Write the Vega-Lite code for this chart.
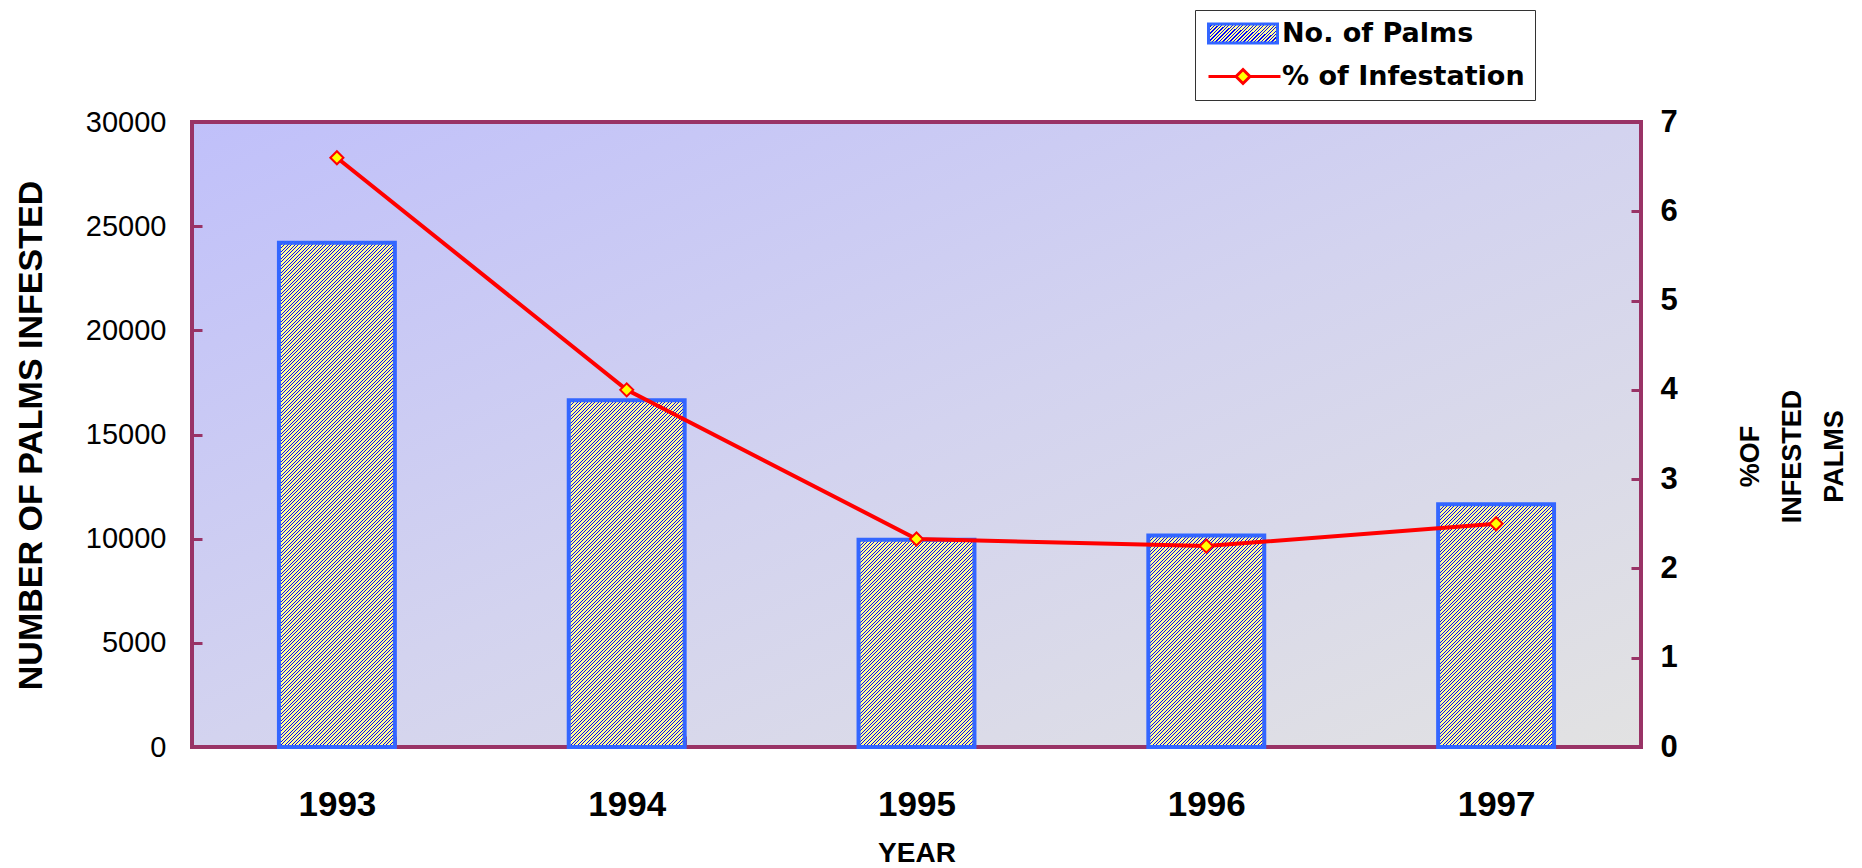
{
  "$schema": "https://vega.github.io/schema/vega-lite/v6.json",
  "width": 1449,
  "height": 625,
  "autosize": {"type": "none"},
  "padding": {"left": 192, "top": 122, "right": 221, "bottom": 121},
  "background": "#ffffff",
  "params": [
    {"name": "hatch", "value": [
{"offset":0,"color":"#00f"},{"offset":0.0015,"color":"#00f"},{"offset":0.0015,"color":"#ff9"},{"offset":0.005,"color":"#ff9"},{"offset":0.005,"color":"#00f"},{"offset":0.0065,"color":"#00f"},{"offset":0.0065,"color":"#ff9"},{"offset":0.01,"color":"#ff9"},
{"offset":0.01,"color":"#00f"},{"offset":0.0115,"color":"#00f"},{"offset":0.0115,"color":"#ff9"},{"offset":0.015,"color":"#ff9"},{"offset":0.015,"color":"#00f"},{"offset":0.0165,"color":"#00f"},{"offset":0.0165,"color":"#ff9"},{"offset":0.02,"color":"#ff9"},
{"offset":0.02,"color":"#00f"},{"offset":0.0215,"color":"#00f"},{"offset":0.0215,"color":"#ff9"},{"offset":0.025,"color":"#ff9"},{"offset":0.025,"color":"#00f"},{"offset":0.0265,"color":"#00f"},{"offset":0.0265,"color":"#ff9"},{"offset":0.03,"color":"#ff9"},
{"offset":0.03,"color":"#00f"},{"offset":0.0315,"color":"#00f"},{"offset":0.0315,"color":"#ff9"},{"offset":0.035,"color":"#ff9"},{"offset":0.035,"color":"#00f"},{"offset":0.0365,"color":"#00f"},{"offset":0.0365,"color":"#ff9"},{"offset":0.04,"color":"#ff9"},
{"offset":0.04,"color":"#00f"},{"offset":0.0415,"color":"#00f"},{"offset":0.0415,"color":"#ff9"},{"offset":0.045,"color":"#ff9"},{"offset":0.045,"color":"#00f"},{"offset":0.0465,"color":"#00f"},{"offset":0.0465,"color":"#ff9"},{"offset":0.05,"color":"#ff9"},
{"offset":0.05,"color":"#00f"},{"offset":0.0515,"color":"#00f"},{"offset":0.0515,"color":"#ff9"},{"offset":0.055,"color":"#ff9"},{"offset":0.055,"color":"#00f"},{"offset":0.0565,"color":"#00f"},{"offset":0.0565,"color":"#ff9"},{"offset":0.06,"color":"#ff9"},
{"offset":0.06,"color":"#00f"},{"offset":0.0615,"color":"#00f"},{"offset":0.0615,"color":"#ff9"},{"offset":0.065,"color":"#ff9"},{"offset":0.065,"color":"#00f"},{"offset":0.0665,"color":"#00f"},{"offset":0.0665,"color":"#ff9"},{"offset":0.07,"color":"#ff9"},
{"offset":0.07,"color":"#00f"},{"offset":0.0715,"color":"#00f"},{"offset":0.0715,"color":"#ff9"},{"offset":0.075,"color":"#ff9"},{"offset":0.075,"color":"#00f"},{"offset":0.0765,"color":"#00f"},{"offset":0.0765,"color":"#ff9"},{"offset":0.08,"color":"#ff9"},
{"offset":0.08,"color":"#00f"},{"offset":0.0815,"color":"#00f"},{"offset":0.0815,"color":"#ff9"},{"offset":0.085,"color":"#ff9"},{"offset":0.085,"color":"#00f"},{"offset":0.0865,"color":"#00f"},{"offset":0.0865,"color":"#ff9"},{"offset":0.09,"color":"#ff9"},
{"offset":0.09,"color":"#00f"},{"offset":0.0915,"color":"#00f"},{"offset":0.0915,"color":"#ff9"},{"offset":0.095,"color":"#ff9"},{"offset":0.095,"color":"#00f"},{"offset":0.0965,"color":"#00f"},{"offset":0.0965,"color":"#ff9"},{"offset":0.1,"color":"#ff9"},
{"offset":0.1,"color":"#00f"},{"offset":0.1015,"color":"#00f"},{"offset":0.1015,"color":"#ff9"},{"offset":0.105,"color":"#ff9"},{"offset":0.105,"color":"#00f"},{"offset":0.1065,"color":"#00f"},{"offset":0.1065,"color":"#ff9"},{"offset":0.11,"color":"#ff9"},
{"offset":0.11,"color":"#00f"},{"offset":0.1115,"color":"#00f"},{"offset":0.1115,"color":"#ff9"},{"offset":0.115,"color":"#ff9"},{"offset":0.115,"color":"#00f"},{"offset":0.1165,"color":"#00f"},{"offset":0.1165,"color":"#ff9"},{"offset":0.12,"color":"#ff9"},
{"offset":0.12,"color":"#00f"},{"offset":0.1215,"color":"#00f"},{"offset":0.1215,"color":"#ff9"},{"offset":0.125,"color":"#ff9"},{"offset":0.125,"color":"#00f"},{"offset":0.1265,"color":"#00f"},{"offset":0.1265,"color":"#ff9"},{"offset":0.13,"color":"#ff9"},
{"offset":0.13,"color":"#00f"},{"offset":0.1315,"color":"#00f"},{"offset":0.1315,"color":"#ff9"},{"offset":0.135,"color":"#ff9"},{"offset":0.135,"color":"#00f"},{"offset":0.1365,"color":"#00f"},{"offset":0.1365,"color":"#ff9"},{"offset":0.14,"color":"#ff9"},
{"offset":0.14,"color":"#00f"},{"offset":0.1415,"color":"#00f"},{"offset":0.1415,"color":"#ff9"},{"offset":0.145,"color":"#ff9"},{"offset":0.145,"color":"#00f"},{"offset":0.1465,"color":"#00f"},{"offset":0.1465,"color":"#ff9"},{"offset":0.15,"color":"#ff9"},
{"offset":0.15,"color":"#00f"},{"offset":0.1515,"color":"#00f"},{"offset":0.1515,"color":"#ff9"},{"offset":0.155,"color":"#ff9"},{"offset":0.155,"color":"#00f"},{"offset":0.1565,"color":"#00f"},{"offset":0.1565,"color":"#ff9"},{"offset":0.16,"color":"#ff9"},
{"offset":0.16,"color":"#00f"},{"offset":0.1615,"color":"#00f"},{"offset":0.1615,"color":"#ff9"},{"offset":0.165,"color":"#ff9"},{"offset":0.165,"color":"#00f"},{"offset":0.1665,"color":"#00f"},{"offset":0.1665,"color":"#ff9"},{"offset":0.17,"color":"#ff9"},
{"offset":0.17,"color":"#00f"},{"offset":0.1715,"color":"#00f"},{"offset":0.1715,"color":"#ff9"},{"offset":0.175,"color":"#ff9"},{"offset":0.175,"color":"#00f"},{"offset":0.1765,"color":"#00f"},{"offset":0.1765,"color":"#ff9"},{"offset":0.18,"color":"#ff9"},
{"offset":0.18,"color":"#00f"},{"offset":0.1815,"color":"#00f"},{"offset":0.1815,"color":"#ff9"},{"offset":0.185,"color":"#ff9"},{"offset":0.185,"color":"#00f"},{"offset":0.1865,"color":"#00f"},{"offset":0.1865,"color":"#ff9"},{"offset":0.19,"color":"#ff9"},
{"offset":0.19,"color":"#00f"},{"offset":0.1915,"color":"#00f"},{"offset":0.1915,"color":"#ff9"},{"offset":0.195,"color":"#ff9"},{"offset":0.195,"color":"#00f"},{"offset":0.1965,"color":"#00f"},{"offset":0.1965,"color":"#ff9"},{"offset":0.2,"color":"#ff9"},
{"offset":0.2,"color":"#00f"},{"offset":0.2015,"color":"#00f"},{"offset":0.2015,"color":"#ff9"},{"offset":0.205,"color":"#ff9"},{"offset":0.205,"color":"#00f"},{"offset":0.2065,"color":"#00f"},{"offset":0.2065,"color":"#ff9"},{"offset":0.21,"color":"#ff9"},
{"offset":0.21,"color":"#00f"},{"offset":0.2115,"color":"#00f"},{"offset":0.2115,"color":"#ff9"},{"offset":0.215,"color":"#ff9"},{"offset":0.215,"color":"#00f"},{"offset":0.2165,"color":"#00f"},{"offset":0.2165,"color":"#ff9"},{"offset":0.22,"color":"#ff9"},
{"offset":0.22,"color":"#00f"},{"offset":0.2215,"color":"#00f"},{"offset":0.2215,"color":"#ff9"},{"offset":0.225,"color":"#ff9"},{"offset":0.225,"color":"#00f"},{"offset":0.2265,"color":"#00f"},{"offset":0.2265,"color":"#ff9"},{"offset":0.23,"color":"#ff9"},
{"offset":0.23,"color":"#00f"},{"offset":0.2315,"color":"#00f"},{"offset":0.2315,"color":"#ff9"},{"offset":0.235,"color":"#ff9"},{"offset":0.235,"color":"#00f"},{"offset":0.2365,"color":"#00f"},{"offset":0.2365,"color":"#ff9"},{"offset":0.24,"color":"#ff9"},
{"offset":0.24,"color":"#00f"},{"offset":0.2415,"color":"#00f"},{"offset":0.2415,"color":"#ff9"},{"offset":0.245,"color":"#ff9"},{"offset":0.245,"color":"#00f"},{"offset":0.2465,"color":"#00f"},{"offset":0.2465,"color":"#ff9"},{"offset":0.25,"color":"#ff9"},
{"offset":0.25,"color":"#00f"},{"offset":0.2515,"color":"#00f"},{"offset":0.2515,"color":"#ff9"},{"offset":0.255,"color":"#ff9"},{"offset":0.255,"color":"#00f"},{"offset":0.2565,"color":"#00f"},{"offset":0.2565,"color":"#ff9"},{"offset":0.26,"color":"#ff9"},
{"offset":0.26,"color":"#00f"},{"offset":0.2615,"color":"#00f"},{"offset":0.2615,"color":"#ff9"},{"offset":0.265,"color":"#ff9"},{"offset":0.265,"color":"#00f"},{"offset":0.2665,"color":"#00f"},{"offset":0.2665,"color":"#ff9"},{"offset":0.27,"color":"#ff9"},
{"offset":0.27,"color":"#00f"},{"offset":0.2715,"color":"#00f"},{"offset":0.2715,"color":"#ff9"},{"offset":0.275,"color":"#ff9"},{"offset":0.275,"color":"#00f"},{"offset":0.2765,"color":"#00f"},{"offset":0.2765,"color":"#ff9"},{"offset":0.28,"color":"#ff9"},
{"offset":0.28,"color":"#00f"},{"offset":0.2815,"color":"#00f"},{"offset":0.2815,"color":"#ff9"},{"offset":0.285,"color":"#ff9"},{"offset":0.285,"color":"#00f"},{"offset":0.2865,"color":"#00f"},{"offset":0.2865,"color":"#ff9"},{"offset":0.29,"color":"#ff9"},
{"offset":0.29,"color":"#00f"},{"offset":0.2915,"color":"#00f"},{"offset":0.2915,"color":"#ff9"},{"offset":0.295,"color":"#ff9"},{"offset":0.295,"color":"#00f"},{"offset":0.2965,"color":"#00f"},{"offset":0.2965,"color":"#ff9"},{"offset":0.3,"color":"#ff9"},
{"offset":0.3,"color":"#00f"},{"offset":0.3015,"color":"#00f"},{"offset":0.3015,"color":"#ff9"},{"offset":0.305,"color":"#ff9"},{"offset":0.305,"color":"#00f"},{"offset":0.3065,"color":"#00f"},{"offset":0.3065,"color":"#ff9"},{"offset":0.31,"color":"#ff9"},
{"offset":0.31,"color":"#00f"},{"offset":0.3115,"color":"#00f"},{"offset":0.3115,"color":"#ff9"},{"offset":0.315,"color":"#ff9"},{"offset":0.315,"color":"#00f"},{"offset":0.3165,"color":"#00f"},{"offset":0.3165,"color":"#ff9"},{"offset":0.32,"color":"#ff9"},
{"offset":0.32,"color":"#00f"},{"offset":0.3215,"color":"#00f"},{"offset":0.3215,"color":"#ff9"},{"offset":0.325,"color":"#ff9"},{"offset":0.325,"color":"#00f"},{"offset":0.3265,"color":"#00f"},{"offset":0.3265,"color":"#ff9"},{"offset":0.33,"color":"#ff9"},
{"offset":0.33,"color":"#00f"},{"offset":0.3315,"color":"#00f"},{"offset":0.3315,"color":"#ff9"},{"offset":0.335,"color":"#ff9"},{"offset":0.335,"color":"#00f"},{"offset":0.3365,"color":"#00f"},{"offset":0.3365,"color":"#ff9"},{"offset":0.34,"color":"#ff9"},
{"offset":0.34,"color":"#00f"},{"offset":0.3415,"color":"#00f"},{"offset":0.3415,"color":"#ff9"},{"offset":0.345,"color":"#ff9"},{"offset":0.345,"color":"#00f"},{"offset":0.3465,"color":"#00f"},{"offset":0.3465,"color":"#ff9"},{"offset":0.35,"color":"#ff9"},
{"offset":0.35,"color":"#00f"},{"offset":0.3515,"color":"#00f"},{"offset":0.3515,"color":"#ff9"},{"offset":0.355,"color":"#ff9"},{"offset":0.355,"color":"#00f"},{"offset":0.3565,"color":"#00f"},{"offset":0.3565,"color":"#ff9"},{"offset":0.36,"color":"#ff9"},
{"offset":0.36,"color":"#00f"},{"offset":0.3615,"color":"#00f"},{"offset":0.3615,"color":"#ff9"},{"offset":0.365,"color":"#ff9"},{"offset":0.365,"color":"#00f"},{"offset":0.3665,"color":"#00f"},{"offset":0.3665,"color":"#ff9"},{"offset":0.37,"color":"#ff9"},
{"offset":0.37,"color":"#00f"},{"offset":0.3715,"color":"#00f"},{"offset":0.3715,"color":"#ff9"},{"offset":0.375,"color":"#ff9"},{"offset":0.375,"color":"#00f"},{"offset":0.3765,"color":"#00f"},{"offset":0.3765,"color":"#ff9"},{"offset":0.38,"color":"#ff9"},
{"offset":0.38,"color":"#00f"},{"offset":0.3815,"color":"#00f"},{"offset":0.3815,"color":"#ff9"},{"offset":0.385,"color":"#ff9"},{"offset":0.385,"color":"#00f"},{"offset":0.3865,"color":"#00f"},{"offset":0.3865,"color":"#ff9"},{"offset":0.39,"color":"#ff9"},
{"offset":0.39,"color":"#00f"},{"offset":0.3915,"color":"#00f"},{"offset":0.3915,"color":"#ff9"},{"offset":0.395,"color":"#ff9"},{"offset":0.395,"color":"#00f"},{"offset":0.3965,"color":"#00f"},{"offset":0.3965,"color":"#ff9"},{"offset":0.4,"color":"#ff9"},
{"offset":0.4,"color":"#00f"},{"offset":0.4015,"color":"#00f"},{"offset":0.4015,"color":"#ff9"},{"offset":0.405,"color":"#ff9"},{"offset":0.405,"color":"#00f"},{"offset":0.4065,"color":"#00f"},{"offset":0.4065,"color":"#ff9"},{"offset":0.41,"color":"#ff9"},
{"offset":0.41,"color":"#00f"},{"offset":0.4115,"color":"#00f"},{"offset":0.4115,"color":"#ff9"},{"offset":0.415,"color":"#ff9"},{"offset":0.415,"color":"#00f"},{"offset":0.4165,"color":"#00f"},{"offset":0.4165,"color":"#ff9"},{"offset":0.42,"color":"#ff9"},
{"offset":0.42,"color":"#00f"},{"offset":0.4215,"color":"#00f"},{"offset":0.4215,"color":"#ff9"},{"offset":0.425,"color":"#ff9"},{"offset":0.425,"color":"#00f"},{"offset":0.4265,"color":"#00f"},{"offset":0.4265,"color":"#ff9"},{"offset":0.43,"color":"#ff9"},
{"offset":0.43,"color":"#00f"},{"offset":0.4315,"color":"#00f"},{"offset":0.4315,"color":"#ff9"},{"offset":0.435,"color":"#ff9"},{"offset":0.435,"color":"#00f"},{"offset":0.4365,"color":"#00f"},{"offset":0.4365,"color":"#ff9"},{"offset":0.44,"color":"#ff9"},
{"offset":0.44,"color":"#00f"},{"offset":0.4415,"color":"#00f"},{"offset":0.4415,"color":"#ff9"},{"offset":0.445,"color":"#ff9"},{"offset":0.445,"color":"#00f"},{"offset":0.4465,"color":"#00f"},{"offset":0.4465,"color":"#ff9"},{"offset":0.45,"color":"#ff9"},
{"offset":0.45,"color":"#00f"},{"offset":0.4515,"color":"#00f"},{"offset":0.4515,"color":"#ff9"},{"offset":0.455,"color":"#ff9"},{"offset":0.455,"color":"#00f"},{"offset":0.4565,"color":"#00f"},{"offset":0.4565,"color":"#ff9"},{"offset":0.46,"color":"#ff9"},
{"offset":0.46,"color":"#00f"},{"offset":0.4615,"color":"#00f"},{"offset":0.4615,"color":"#ff9"},{"offset":0.465,"color":"#ff9"},{"offset":0.465,"color":"#00f"},{"offset":0.4665,"color":"#00f"},{"offset":0.4665,"color":"#ff9"},{"offset":0.47,"color":"#ff9"},
{"offset":0.47,"color":"#00f"},{"offset":0.4715,"color":"#00f"},{"offset":0.4715,"color":"#ff9"},{"offset":0.475,"color":"#ff9"},{"offset":0.475,"color":"#00f"},{"offset":0.4765,"color":"#00f"},{"offset":0.4765,"color":"#ff9"},{"offset":0.48,"color":"#ff9"},
{"offset":0.48,"color":"#00f"},{"offset":0.4815,"color":"#00f"},{"offset":0.4815,"color":"#ff9"},{"offset":0.485,"color":"#ff9"},{"offset":0.485,"color":"#00f"},{"offset":0.4865,"color":"#00f"},{"offset":0.4865,"color":"#ff9"},{"offset":0.49,"color":"#ff9"},
{"offset":0.49,"color":"#00f"},{"offset":0.4915,"color":"#00f"},{"offset":0.4915,"color":"#ff9"},{"offset":0.495,"color":"#ff9"},{"offset":0.495,"color":"#00f"},{"offset":0.4965,"color":"#00f"},{"offset":0.4965,"color":"#ff9"},{"offset":0.5,"color":"#ff9"},
{"offset":0.5,"color":"#00f"},{"offset":0.5015,"color":"#00f"},{"offset":0.5015,"color":"#ff9"},{"offset":0.505,"color":"#ff9"},{"offset":0.505,"color":"#00f"},{"offset":0.5065,"color":"#00f"},{"offset":0.5065,"color":"#ff9"},{"offset":0.51,"color":"#ff9"},
{"offset":0.51,"color":"#00f"},{"offset":0.5115,"color":"#00f"},{"offset":0.5115,"color":"#ff9"},{"offset":0.515,"color":"#ff9"},{"offset":0.515,"color":"#00f"},{"offset":0.5165,"color":"#00f"},{"offset":0.5165,"color":"#ff9"},{"offset":0.52,"color":"#ff9"},
{"offset":0.52,"color":"#00f"},{"offset":0.5215,"color":"#00f"},{"offset":0.5215,"color":"#ff9"},{"offset":0.525,"color":"#ff9"},{"offset":0.525,"color":"#00f"},{"offset":0.5265,"color":"#00f"},{"offset":0.5265,"color":"#ff9"},{"offset":0.53,"color":"#ff9"},
{"offset":0.53,"color":"#00f"},{"offset":0.5315,"color":"#00f"},{"offset":0.5315,"color":"#ff9"},{"offset":0.535,"color":"#ff9"},{"offset":0.535,"color":"#00f"},{"offset":0.5365,"color":"#00f"},{"offset":0.5365,"color":"#ff9"},{"offset":0.54,"color":"#ff9"},
{"offset":0.54,"color":"#00f"},{"offset":0.5415,"color":"#00f"},{"offset":0.5415,"color":"#ff9"},{"offset":0.545,"color":"#ff9"},{"offset":0.545,"color":"#00f"},{"offset":0.5465,"color":"#00f"},{"offset":0.5465,"color":"#ff9"},{"offset":0.55,"color":"#ff9"},
{"offset":0.55,"color":"#00f"},{"offset":0.5515,"color":"#00f"},{"offset":0.5515,"color":"#ff9"},{"offset":0.555,"color":"#ff9"},{"offset":0.555,"color":"#00f"},{"offset":0.5565,"color":"#00f"},{"offset":0.5565,"color":"#ff9"},{"offset":0.56,"color":"#ff9"},
{"offset":0.56,"color":"#00f"},{"offset":0.5615,"color":"#00f"},{"offset":0.5615,"color":"#ff9"},{"offset":0.565,"color":"#ff9"},{"offset":0.565,"color":"#00f"},{"offset":0.5665,"color":"#00f"},{"offset":0.5665,"color":"#ff9"},{"offset":0.57,"color":"#ff9"},
{"offset":0.57,"color":"#00f"},{"offset":0.5715,"color":"#00f"},{"offset":0.5715,"color":"#ff9"},{"offset":0.575,"color":"#ff9"},{"offset":0.575,"color":"#00f"},{"offset":0.5765,"color":"#00f"},{"offset":0.5765,"color":"#ff9"},{"offset":0.58,"color":"#ff9"},
{"offset":0.58,"color":"#00f"},{"offset":0.5815,"color":"#00f"},{"offset":0.5815,"color":"#ff9"},{"offset":0.585,"color":"#ff9"},{"offset":0.585,"color":"#00f"},{"offset":0.5865,"color":"#00f"},{"offset":0.5865,"color":"#ff9"},{"offset":0.59,"color":"#ff9"},
{"offset":0.59,"color":"#00f"},{"offset":0.5915,"color":"#00f"},{"offset":0.5915,"color":"#ff9"},{"offset":0.595,"color":"#ff9"},{"offset":0.595,"color":"#00f"},{"offset":0.5965,"color":"#00f"},{"offset":0.5965,"color":"#ff9"},{"offset":0.6,"color":"#ff9"},
{"offset":0.6,"color":"#00f"},{"offset":0.6015,"color":"#00f"},{"offset":0.6015,"color":"#ff9"},{"offset":0.605,"color":"#ff9"},{"offset":0.605,"color":"#00f"},{"offset":0.6065,"color":"#00f"},{"offset":0.6065,"color":"#ff9"},{"offset":0.61,"color":"#ff9"},
{"offset":0.61,"color":"#00f"},{"offset":0.6115,"color":"#00f"},{"offset":0.6115,"color":"#ff9"},{"offset":0.615,"color":"#ff9"},{"offset":0.615,"color":"#00f"},{"offset":0.6165,"color":"#00f"},{"offset":0.6165,"color":"#ff9"},{"offset":0.62,"color":"#ff9"},
{"offset":0.62,"color":"#00f"},{"offset":0.6215,"color":"#00f"},{"offset":0.6215,"color":"#ff9"},{"offset":0.625,"color":"#ff9"},{"offset":0.625,"color":"#00f"},{"offset":0.6265,"color":"#00f"},{"offset":0.6265,"color":"#ff9"},{"offset":0.63,"color":"#ff9"},
{"offset":0.63,"color":"#00f"},{"offset":0.6315,"color":"#00f"},{"offset":0.6315,"color":"#ff9"},{"offset":0.635,"color":"#ff9"},{"offset":0.635,"color":"#00f"},{"offset":0.6365,"color":"#00f"},{"offset":0.6365,"color":"#ff9"},{"offset":0.64,"color":"#ff9"},
{"offset":0.64,"color":"#00f"},{"offset":0.6415,"color":"#00f"},{"offset":0.6415,"color":"#ff9"},{"offset":0.645,"color":"#ff9"},{"offset":0.645,"color":"#00f"},{"offset":0.6465,"color":"#00f"},{"offset":0.6465,"color":"#ff9"},{"offset":0.65,"color":"#ff9"},
{"offset":0.65,"color":"#00f"},{"offset":0.6515,"color":"#00f"},{"offset":0.6515,"color":"#ff9"},{"offset":0.655,"color":"#ff9"},{"offset":0.655,"color":"#00f"},{"offset":0.6565,"color":"#00f"},{"offset":0.6565,"color":"#ff9"},{"offset":0.66,"color":"#ff9"},
{"offset":0.66,"color":"#00f"},{"offset":0.6615,"color":"#00f"},{"offset":0.6615,"color":"#ff9"},{"offset":0.665,"color":"#ff9"},{"offset":0.665,"color":"#00f"},{"offset":0.6665,"color":"#00f"},{"offset":0.6665,"color":"#ff9"},{"offset":0.67,"color":"#ff9"},
{"offset":0.67,"color":"#00f"},{"offset":0.6715,"color":"#00f"},{"offset":0.6715,"color":"#ff9"},{"offset":0.675,"color":"#ff9"},{"offset":0.675,"color":"#00f"},{"offset":0.6765,"color":"#00f"},{"offset":0.6765,"color":"#ff9"},{"offset":0.68,"color":"#ff9"},
{"offset":0.68,"color":"#00f"},{"offset":0.6815,"color":"#00f"},{"offset":0.6815,"color":"#ff9"},{"offset":0.685,"color":"#ff9"},{"offset":0.685,"color":"#00f"},{"offset":0.6865,"color":"#00f"},{"offset":0.6865,"color":"#ff9"},{"offset":0.69,"color":"#ff9"},
{"offset":0.69,"color":"#00f"},{"offset":0.6915,"color":"#00f"},{"offset":0.6915,"color":"#ff9"},{"offset":0.695,"color":"#ff9"},{"offset":0.695,"color":"#00f"},{"offset":0.6965,"color":"#00f"},{"offset":0.6965,"color":"#ff9"},{"offset":0.7,"color":"#ff9"},
{"offset":0.7,"color":"#00f"},{"offset":0.7015,"color":"#00f"},{"offset":0.7015,"color":"#ff9"},{"offset":0.705,"color":"#ff9"},{"offset":0.705,"color":"#00f"},{"offset":0.7065,"color":"#00f"},{"offset":0.7065,"color":"#ff9"},{"offset":0.71,"color":"#ff9"},
{"offset":0.71,"color":"#00f"},{"offset":0.7115,"color":"#00f"},{"offset":0.7115,"color":"#ff9"},{"offset":0.715,"color":"#ff9"},{"offset":0.715,"color":"#00f"},{"offset":0.7165,"color":"#00f"},{"offset":0.7165,"color":"#ff9"},{"offset":0.72,"color":"#ff9"},
{"offset":0.72,"color":"#00f"},{"offset":0.7215,"color":"#00f"},{"offset":0.7215,"color":"#ff9"},{"offset":0.725,"color":"#ff9"},{"offset":0.725,"color":"#00f"},{"offset":0.7265,"color":"#00f"},{"offset":0.7265,"color":"#ff9"},{"offset":0.73,"color":"#ff9"},
{"offset":0.73,"color":"#00f"},{"offset":0.7315,"color":"#00f"},{"offset":0.7315,"color":"#ff9"},{"offset":0.735,"color":"#ff9"},{"offset":0.735,"color":"#00f"},{"offset":0.7365,"color":"#00f"},{"offset":0.7365,"color":"#ff9"},{"offset":0.74,"color":"#ff9"},
{"offset":0.74,"color":"#00f"},{"offset":0.7415,"color":"#00f"},{"offset":0.7415,"color":"#ff9"},{"offset":0.745,"color":"#ff9"},{"offset":0.745,"color":"#00f"},{"offset":0.7465,"color":"#00f"},{"offset":0.7465,"color":"#ff9"},{"offset":0.75,"color":"#ff9"},
{"offset":0.75,"color":"#00f"},{"offset":0.7515,"color":"#00f"},{"offset":0.7515,"color":"#ff9"},{"offset":0.755,"color":"#ff9"},{"offset":0.755,"color":"#00f"},{"offset":0.7565,"color":"#00f"},{"offset":0.7565,"color":"#ff9"},{"offset":0.76,"color":"#ff9"},
{"offset":0.76,"color":"#00f"},{"offset":0.7615,"color":"#00f"},{"offset":0.7615,"color":"#ff9"},{"offset":0.765,"color":"#ff9"},{"offset":0.765,"color":"#00f"},{"offset":0.7665,"color":"#00f"},{"offset":0.7665,"color":"#ff9"},{"offset":0.77,"color":"#ff9"},
{"offset":0.77,"color":"#00f"},{"offset":0.7715,"color":"#00f"},{"offset":0.7715,"color":"#ff9"},{"offset":0.775,"color":"#ff9"},{"offset":0.775,"color":"#00f"},{"offset":0.7765,"color":"#00f"},{"offset":0.7765,"color":"#ff9"},{"offset":0.78,"color":"#ff9"},
{"offset":0.78,"color":"#00f"},{"offset":0.7815,"color":"#00f"},{"offset":0.7815,"color":"#ff9"},{"offset":0.785,"color":"#ff9"},{"offset":0.785,"color":"#00f"},{"offset":0.7865,"color":"#00f"},{"offset":0.7865,"color":"#ff9"},{"offset":0.79,"color":"#ff9"},
{"offset":0.79,"color":"#00f"},{"offset":0.7915,"color":"#00f"},{"offset":0.7915,"color":"#ff9"},{"offset":0.795,"color":"#ff9"},{"offset":0.795,"color":"#00f"},{"offset":0.7965,"color":"#00f"},{"offset":0.7965,"color":"#ff9"},{"offset":0.8,"color":"#ff9"},
{"offset":0.8,"color":"#00f"},{"offset":0.8015,"color":"#00f"},{"offset":0.8015,"color":"#ff9"},{"offset":0.805,"color":"#ff9"},{"offset":0.805,"color":"#00f"},{"offset":0.8065,"color":"#00f"},{"offset":0.8065,"color":"#ff9"},{"offset":0.81,"color":"#ff9"},
{"offset":0.81,"color":"#00f"},{"offset":0.8115,"color":"#00f"},{"offset":0.8115,"color":"#ff9"},{"offset":0.815,"color":"#ff9"},{"offset":0.815,"color":"#00f"},{"offset":0.8165,"color":"#00f"},{"offset":0.8165,"color":"#ff9"},{"offset":0.82,"color":"#ff9"},
{"offset":0.82,"color":"#00f"},{"offset":0.8215,"color":"#00f"},{"offset":0.8215,"color":"#ff9"},{"offset":0.825,"color":"#ff9"},{"offset":0.825,"color":"#00f"},{"offset":0.8265,"color":"#00f"},{"offset":0.8265,"color":"#ff9"},{"offset":0.83,"color":"#ff9"},
{"offset":0.83,"color":"#00f"},{"offset":0.8315,"color":"#00f"},{"offset":0.8315,"color":"#ff9"},{"offset":0.835,"color":"#ff9"},{"offset":0.835,"color":"#00f"},{"offset":0.8365,"color":"#00f"},{"offset":0.8365,"color":"#ff9"},{"offset":0.84,"color":"#ff9"},
{"offset":0.84,"color":"#00f"},{"offset":0.8415,"color":"#00f"},{"offset":0.8415,"color":"#ff9"},{"offset":0.845,"color":"#ff9"},{"offset":0.845,"color":"#00f"},{"offset":0.8465,"color":"#00f"},{"offset":0.8465,"color":"#ff9"},{"offset":0.85,"color":"#ff9"},
{"offset":0.85,"color":"#00f"},{"offset":0.8515,"color":"#00f"},{"offset":0.8515,"color":"#ff9"},{"offset":0.855,"color":"#ff9"},{"offset":0.855,"color":"#00f"},{"offset":0.8565,"color":"#00f"},{"offset":0.8565,"color":"#ff9"},{"offset":0.86,"color":"#ff9"},
{"offset":0.86,"color":"#00f"},{"offset":0.8615,"color":"#00f"},{"offset":0.8615,"color":"#ff9"},{"offset":0.865,"color":"#ff9"},{"offset":0.865,"color":"#00f"},{"offset":0.8665,"color":"#00f"},{"offset":0.8665,"color":"#ff9"},{"offset":0.87,"color":"#ff9"},
{"offset":0.87,"color":"#00f"},{"offset":0.8715,"color":"#00f"},{"offset":0.8715,"color":"#ff9"},{"offset":0.875,"color":"#ff9"},{"offset":0.875,"color":"#00f"},{"offset":0.8765,"color":"#00f"},{"offset":0.8765,"color":"#ff9"},{"offset":0.88,"color":"#ff9"},
{"offset":0.88,"color":"#00f"},{"offset":0.8815,"color":"#00f"},{"offset":0.8815,"color":"#ff9"},{"offset":0.885,"color":"#ff9"},{"offset":0.885,"color":"#00f"},{"offset":0.8865,"color":"#00f"},{"offset":0.8865,"color":"#ff9"},{"offset":0.89,"color":"#ff9"},
{"offset":0.89,"color":"#00f"},{"offset":0.8915,"color":"#00f"},{"offset":0.8915,"color":"#ff9"},{"offset":0.895,"color":"#ff9"},{"offset":0.895,"color":"#00f"},{"offset":0.8965,"color":"#00f"},{"offset":0.8965,"color":"#ff9"},{"offset":0.9,"color":"#ff9"}
    ]}
  ],
  "data": {
    "values": [
      {"Year": "1993", "Palms": 24200, "Pct": 6.6},
      {"Year": "1994", "Palms": 16650, "Pct": 4.0},
      {"Year": "1995", "Palms": 9950, "Pct": 2.33},
      {"Year": "1996", "Palms": 10150, "Pct": 2.25},
      {"Year": "1997", "Palms": 11650, "Pct": 2.5}
    ]
  },
  "view": {
    "fill": {"gradient": "linear", "x1": 0, "y1": 0, "x2": 1, "y2": 1, "stops": [
      {"offset": 0, "color": "#c0c0fa"},
      {"offset": 0.5, "color": "#d3d3ef"},
      {"offset": 1, "color": "#e2e2e2"}
    ]},
    "stroke": "#993366",
    "strokeWidth": 4
  },
  "config": {
    "axis": {
      "domain": false,
      "grid": false,
      "tickColor": "#993366",
      "tickWidth": 3,
      "tickSize": -10,
      "labelColor": "#000000",
      "titleColor": "#000000",
      "labelFont": "Liberation Sans",
      "titleFont": "Liberation Sans"
    }
  },
  "encoding": {
    "x": {
      "field": "Year",
      "type": "ordinal",
      "scale": {"paddingInner": 0.6, "paddingOuter": 0.3},
      "axis": {
        "title": "YEAR",
        "titleFontSize": 28,
        "titleFontWeight": "bold",
        "titleY": 106,
        "titleBaseline": "middle",
        "labelAngle": 0,
        "labelFontSize": 35,
        "labelFontWeight": "bold",
        "labelPadding": 51,
        "tickBand": "extent",
        "tickSize": -11
      }
    }
  },
  "layer": [
    {
      "mark": {
        "type": "bar",
        "strokeWidth": 4,
        "fill": {"expr": "datum.Palms == null ? (datum.value === 'No. of Palms' ? {gradient: 'linear', x1: 0, y1: 0, x2: 9.43, y2: 2.6, stops: hatch} : '#ffff00') : {gradient: 'linear', x1: 0, y1: 0, x2: 700 * bandwidth('x') / (pow(bandwidth('x'), 2) + pow(datum.Palms * height / 30000, 2)), y2: 700 * (datum.Palms * height / 30000) / (pow(bandwidth('x'), 2) + pow(datum.Palms * height / 30000, 2)), stops: hatch}"}
      },
      "encoding": {
        "y": {
          "field": "Palms",
          "type": "quantitative",
          "scale": {"domain": [0, 30000], "nice": false},
          "axis": {
            "values": [0, 5000, 10000, 15000, 20000, 25000, 30000],
            "format": "d",
            "labelFontSize": 29,
            "labelPadding": 36,
            "title": "NUMBER OF PALMS INFESTED",
            "titleFontSize": 34,
            "titleFontWeight": "bold",
            "titleAngle": 270,
            "titleX": -161,
            "titleY": 313,
            "titleAlign": "center",
            "titleBaseline": "middle"
          }
        },
        "stroke": {
          "datum": "No. of Palms",
          "type": "nominal",
          "scale": {"domain": ["No. of Palms", "% of Infestation"], "range": ["#3366ff", "#ff0000"]},
          "legend": {
            "orient": "none",
            "legendX": 1003,
            "legendY": -112,
            "direction": "vertical",
            "title": null,
            "strokeColor": "#333333",
            "fillColor": "#ffffff",
            "padding": 10,
            "symbolType": {"expr": "datum.value === 'No. of Palms' ? 'M-1,-0.95H5.9V0.95H-1Z' : 'M-1,0H1.75M3.15,0H6.2M2.45,-0.7L3.15,0L2.45,0.7L1.75,0Z'"},
            "symbolSize": 400,
            "symbolStrokeWidth": 3,
            "symbolOpacity": 1,
            "labelFont": "DejaVu Sans",
            "labelFontSize": 27,
            "labelFontWeight": "bold",
            "labelColor": "#000000",
            "labelOffset": 50,
            "labelLimit": 400,
            "rowPadding": 13
          }
        }
      }
    },
    {
      "encoding": {
        "y": {
          "field": "Pct",
          "type": "quantitative",
          "scale": {"domain": [0, 7], "nice": false},
          "axis": {
            "orient": "right",
            "values": [0, 1, 2, 3, 4, 5, 6, 7],
            "labelFontSize": 31,
            "labelFontWeight": "bold",
            "labelPadding": 29,
            "title": ["%OF", "INFESTED", "PALMS"],
            "titleFontSize": 27,
            "titleFontWeight": "bold",
            "titleLineHeight": 42,
            "titleAngle": 270,
            "titleX": 109,
            "titleY": 334,
            "titleAlign": "center",
            "titleBaseline": "middle"
          }
        }
      },
      "layer": [
        {
          "mark": {"type": "line", "strokeWidth": 4},
          "encoding": {
            "stroke": {"datum": "% of Infestation", "type": "nominal"}
          }
        },
        {
          "mark": {"type": "point", "shape": "diamond", "filled": true, "fill": "#ffff00", "stroke": "#ff0000", "strokeWidth": 2, "size": 170, "opacity": 1}
        }
      ]
    }
  ],
  "resolve": {"scale": {"y": "independent"}}
}
